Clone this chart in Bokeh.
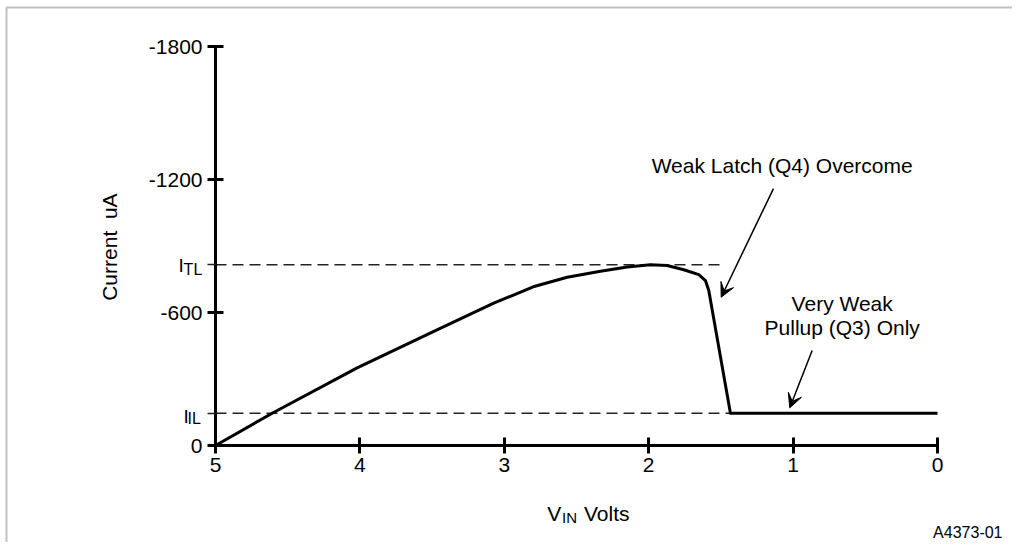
import numpy as np
from bokeh.plotting import figure
from bokeh.models import (Range1d, FixedTicker, Label, Arrow, VeeHead, ColumnDataSource,
                          LinearAxis, BoxAnnotation)
from bokeh.embed import file_html
from bokeh.resources import INLINE

# ---- data ----
v_in = [5.0, 4.598, 4.019, 3.488, 3.073, 2.80, 2.564, 2.334, 2.149, 1.988, 1.872,
        1.757, 1.653, 1.607, 1.584, 1.434, 0.0]
current = [0, -149, -350, -515, -642, -716, -759, -786, -805, -815, -812,
           -793, -771, -744, -699, -145, -145]
I_TL = -815
I_IL = -145
ref_values = [I_TL, I_IL]
ref_end_v = [1.47, 1.434]
x_ticks = [5, 4, 3, 2, 1, 0]
y_ticks = [-1800, -1200, -600, 0]
y_tick_labels = ["-1800", "-1200", "-600", "0"]

FONT = "Liberation Sans"

# ---- layout (canvas pixels) ----
W, H = 1012, 542
AXIS_X = 215          # canvas x of V = 5
AXIS_Y = 445          # canvas y of I = 0
PX_PER_V = 144.4
PX_PER_UA = 399 / 1800

x_start = 5 + AXIS_X / PX_PER_V
x_end = 5 - (W - AXIS_X) / PX_PER_V
y_top = -AXIS_Y / PX_PER_UA
y_bottom = (H - AXIS_Y) / PX_PER_UA

def vx(px):
    return 5 - (px - AXIS_X) / PX_PER_V

def iy(py):
    return (py - AXIS_Y) / PX_PER_UA

p = figure(width=W, height=H, output_backend="svg", toolbar_location=None,
           x_range=Range1d(x_start, x_end), y_range=Range1d(y_bottom, y_top),
           x_axis_type=None, y_axis_type=None, min_border=0)
p.outline_line_color = None
p.grid.visible = False
p.background_fill_color = "white"
p.border_fill_color = "white"

# page frame (left and top edges visible)
p.add_layout(BoxAnnotation(left=vx(6), top=iy(7), right=vx(W + 60), bottom=iy(H + 60),
                           fill_alpha=0, line_color="#333", line_width=2))

xaxis = LinearAxis(fixed_location=0, bounds=(0, 5))
yaxis = LinearAxis(fixed_location=5, bounds=(-1800, 0))
p.add_layout(xaxis, "below")
p.add_layout(yaxis, "left")

for ax in (xaxis, yaxis):
    ax.axis_line_width = 3
    ax.axis_line_color = "black"
    ax.major_tick_line_width = 3
    ax.major_tick_line_color = "black"
    ax.major_tick_in = 8
    ax.major_tick_out = 8
    ax.major_label_text_font = FONT
    ax.major_label_text_font_size = "21px"
    ax.major_label_text_color = "black"

xaxis.ticker = FixedTicker(ticks=x_ticks)
xaxis.minor_tick_line_color = None
xaxis.major_label_standoff = 4
yaxis.ticker = FixedTicker(ticks=y_ticks, minor_ticks=ref_values)
yaxis.major_label_overrides = {t: s for t, s in zip(y_ticks, y_tick_labels)}
yaxis.minor_tick_in = 0
yaxis.minor_tick_out = 8
yaxis.minor_tick_line_width = 1.5
yaxis.minor_tick_line_color = "#222"
yaxis.major_label_standoff = 5

# reference dashed lines
ref_src = ColumnDataSource(dict(x0=[5.0] * len(ref_values), x1=ref_end_v, y=ref_values))
p.segment(x0="x0", y0="y", x1="x1", y1="y", source=ref_src,
          line_color="#222", line_width=1.5, line_dash="11 6")

# curve
p.line(v_in, current, line_color="black", line_width=3, line_join="round")

# arrows
p.add_layout(Arrow(x_start=1.136, y_start=-1159, x_end=1.498, y_end=-669,
                   line_width=1.5, line_color="black",
                   end=VeeHead(size=14, fill_color="black", line_color="black", line_width=1)))
p.add_layout(Arrow(x_start=0.868, y_start=-429, x_end=1.023, y_end=-170,
                   line_width=1.5, line_color="black",
                   end=VeeHead(size=14, fill_color="black", line_color="black", line_width=1)))

def lab(x, y, text, size="21px", align="left", baseline="alphabetic", angle=0.0):
    p.add_layout(Label(x=x, y=y, text=text, text_font=FONT, text_font_size=size,
                       text_color="black", text_align=align, text_baseline=baseline,
                       angle=angle))

lab(1.0755, -1263, "Weak Latch (Q4) Overcome", align="center", baseline="middle")
lab(0.660, -641, "Very Weak", align="center", baseline="middle")
lab(0.660, -532, "Pullup (Q3) Only", align="center", baseline="middle")

lab(5.7375, -895, "Current \u00a0uA", align="center", baseline="middle", angle=np.pi / 2)

lab(2.7022, 305, "V")
lab(2.6004, 325, "IN", size="15px")
lab(2.4481, 305, "Volts")

lab(5.2563, -814, "I", size="19px")
lab(5.2209, -796, "TL", size="16px")
lab(5.2217, -129, "I", size="19px")
lab(5.1939, -120, "IL", size="16px")

lab(vx(1002), iy(532), "A4373-01", size="16px", align="right")

open("out.html", "w").write(file_html(p, INLINE))
